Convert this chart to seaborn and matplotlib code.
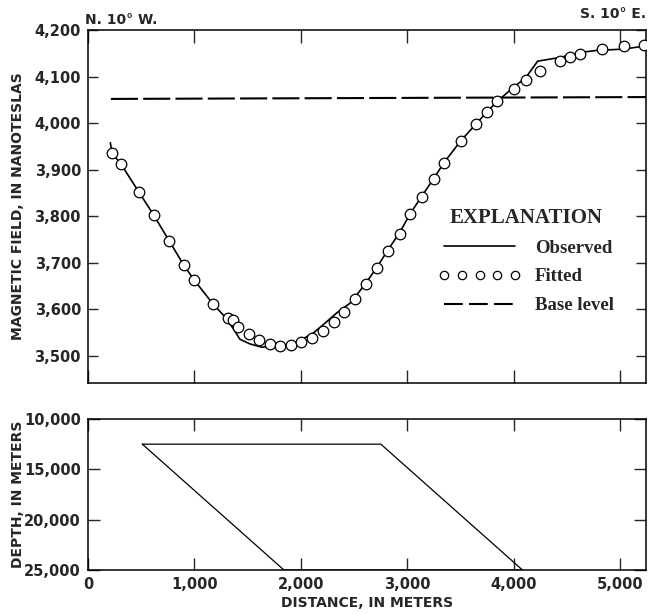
import matplotlib
matplotlib.use("Agg")
import matplotlib.pyplot as plt
from matplotlib.lines import Line2D
from matplotlib.font_manager import FontProperties
from matplotlib.ticker import FuncFormatter
import seaborn as sns

# Profile distance (m) and total magnetic field (nT)
obs_x = [210, 225, 307, 478, 616, 763, 897, 997, 1173, 1270, 1364, 1426, 1520, 1629,
         1707, 1807, 1904, 2004, 2114, 2208, 2333, 2458, 2520, 2614, 2718, 2817, 2927,
         3027, 3140, 3249, 3346, 3500, 3643, 3746, 3845, 4000, 4109, 4222, 4430, 4630,
         4772, 5030, 5240]
obs_y = [3958, 3936, 3913, 3852, 3803, 3747, 3696, 3663, 3612, 3588, 3559, 3536, 3526, 3519,
         3520, 3522, 3526, 3535, 3549, 3567, 3592, 3613, 3630, 3658, 3692, 3728, 3765,
         3806, 3845, 3882, 3916, 3962, 3998, 4024, 4047, 4078, 4097, 4133, 4141, 4152,
         4156, 4159, 4166]

fit_x = [225, 307, 478, 616, 763, 897, 997, 1173, 1310, 1357, 1410, 1510, 1607, 1707,
         1807, 1904, 2004, 2104, 2208, 2308, 2404, 2511, 2614, 2718, 2817, 2927, 3027,
         3140, 3249, 3346, 3500, 3643, 3746, 3845, 4000, 4109, 4240, 4431, 4528, 4623,
         4829, 5032, 5224]
fit_y = [3936, 3913, 3852, 3803, 3747, 3696, 3663, 3612, 3582, 3577, 3563, 3547, 3535, 3526,
         3521, 3523, 3531, 3539, 3554, 3572, 3595, 3622, 3654, 3688, 3725, 3763, 3804,
         3842, 3881, 3915, 3961, 3998, 4024, 4047, 4074, 4093, 4112, 4133, 4142, 4148,
         4159, 4165, 4168]

base_x = [215, 5240]
base_y = [4052, 4056]

# Cross-section of the source body (distance m, depth m)
body_x = [510, 2750, 4080, 1840, 510]
body_y = [12500, 12500, 25000, 25000, 12500]

field_ticks = [3500, 3600, 3700, 3800, 3900, 4000, 4100, 4200]
depth_ticks = [10000, 15000, 20000, 25000]
dist_ticks = [0, 1000, 2000, 3000, 4000, 5000]

sns.set_style("ticks")
plt.rcParams["font.family"] = ["DejaVu Sans"]
plt.rcParams["font.weight"] = "bold"
plt.rcParams["axes.labelweight"] = "bold"

W, H = 648, 614
fig = plt.figure(figsize=(W / 100, H / 100), dpi=100)
L, R = 88, 646
ax1 = fig.add_axes([L / W, 1 - 383 / H, (R - L) / W, (383 - 30) / H])
ax2 = fig.add_axes([L / W, 1 - 570 / H, (R - L) / W, (570 - 419) / H])

# Upper panel: magnetic profile
sns.lineplot(x=base_x, y=base_y, ax=ax1, color="black", linewidth=1.5,
             linestyle=(0, (13, 2.5)), sort=False, estimator=None)
sns.lineplot(x=obs_x, y=obs_y, ax=ax1, color="black", linewidth=1.2,
             sort=False, estimator=None)
sns.scatterplot(x=fit_x, y=fit_y, ax=ax1, marker="o", s=58, facecolor="white",
                edgecolor="black", linewidth=0.9, zorder=3)

comma = FuncFormatter(lambda v, p: f"{int(round(v)):,}")

ax1.set_xlim(0, 5240)
ax1.set_ylim(3442, 4200)
ax1.set_xticks(dist_ticks)
ax1.set_yticks(field_ticks)
ax1.yaxis.set_major_formatter(comma)
ax1.tick_params(axis="x", direction="in", length=9.5, width=1.0, top=True, bottom=True,
                labelbottom=False)
ax1.tick_params(axis="y", direction="in", length=7.5, width=1.0, left=True, right=True,
                labelsize=10.5, pad=5)
ax1.set_ylabel("MAGNETIC FIELD, IN NANOTESLAS", fontsize=10, fontweight="bold")
ax1.yaxis.set_label_coords(-0.113, 0.5)
ax1.set_xlabel("")

# Lower panel: source body cross-section
sns.lineplot(x=body_x, y=body_y, ax=ax2, color="black", linewidth=0.9,
             sort=False, estimator=None)
ax2.set_xlim(0, 5240)
ax2.set_ylim(25000, 10000)
ax2.set_xticks(dist_ticks)
ax2.set_yticks(depth_ticks)
ax2.xaxis.set_major_formatter(comma)
ax2.yaxis.set_major_formatter(comma)
ax2.tick_params(axis="x", direction="in", length=8.5, width=1.0, top=True, bottom=True,
                labelsize=10.5, pad=5)
ax2.tick_params(axis="y", direction="in", length=8.5, width=1.0, left=True, right=True,
                labelsize=10.5, pad=5)
ax2.set_ylabel("DEPTH, IN METERS", fontsize=10, fontweight="bold")
ax2.yaxis.set_label_coords(-0.113, 0.5)
ax2.set_xlabel("DISTANCE, IN METERS", fontsize=10, fontweight="bold")
ax2.xaxis.set_label_coords(0.5, -0.17)

for ax in (ax1, ax2):
    for sp in ax.spines.values():
        sp.set_visible(True)
        sp.set_linewidth(1.1)
        sp.set_color("black")

# Explanation (legend)
h_obs = Line2D([], [], color="black", linewidth=1.2)
h_fit = Line2D([], [], linestyle="none", marker="o", markersize=6,
               markerfacecolor="white", markeredgecolor="black", markeredgewidth=0.9)
h_base = Line2D([], [], color="black", linewidth=1.5, linestyle=(0, (9, 3)))
leg = ax1.legend([h_obs, h_fit, h_base], ["Observed", "Fitted", "Base level"],
                 numpoints=5, title="EXPLANATION", loc="upper left",
                 bbox_to_anchor=(0.628, 0.496), frameon=False,
                 handlelength=4.4, handletextpad=0.75, labelspacing=0.62,
                 borderpad=0, borderaxespad=0,
                 prop=FontProperties(family="Liberation Serif", weight="bold", size=13.5),
                 title_fontproperties=FontProperties(family="Liberation Serif",
                                                     weight="bold", size=15))

# Profile bearing labels
fig.text(85 / W, 1 - 24 / H, "N. 10° W.", fontsize=10, fontweight="bold",
         ha="left", va="baseline")
fig.text(646 / W, 1 - 18 / H, "S. 10° E.", fontsize=10, fontweight="bold",
         ha="right", va="baseline")

fig.savefig("out.png", dpi=100)
